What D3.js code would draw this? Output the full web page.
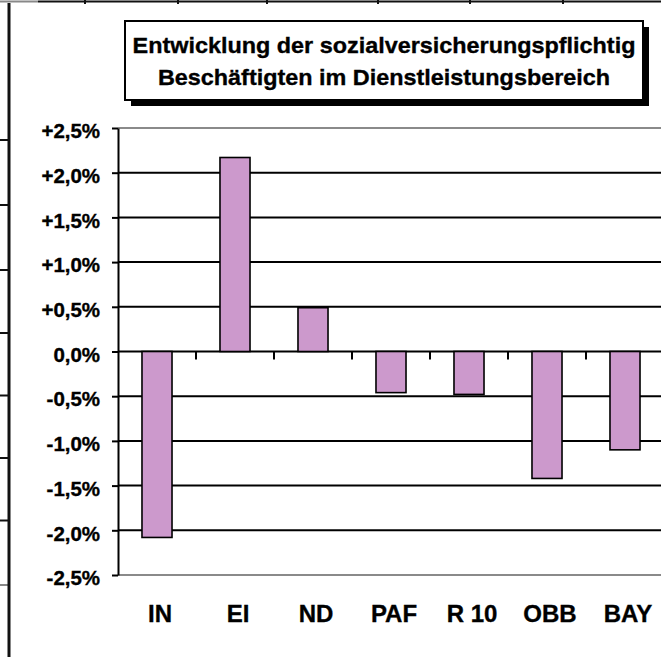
<!doctype html>
<html lang="de">
<head>
<meta charset="utf-8">
<title>Entwicklung der sozialversicherungspflichtig Beschäftigten im Dienstleistungsbereich</title>
<script src="https://cdn.jsdelivr.net/npm/d3@7"></script>
<style>
  body { margin: 0; background: #fff; }
  svg { display: block; font-family: "Liberation Sans", Arial, sans-serif; font-weight: bold; }
  svg text { stroke: #000; stroke-width: 0.35px; }
</style>
</head>
<body>
<svg id="chart" width="661" height="659"></svg>
<script>
// chart values (percent change)
var categories = ["IN", "EI", "ND", "PAF", "R 10", "OBB", "BAY"];
var values = [-2.08, 2.17, 0.49, -0.46, -0.48, -1.42, -1.10];
var tickValues = [2.5, 2, 1.5, 1, 0.5, 0, -0.5, -1, -1.5, -2, -2.5];
var tickLabels = ["+2,5%", "+2,0%", "+1,5%", "+1,0%", "+0,5%", "0,0%",
                  "-0,5%", "-1,0%", "-1,5%", "-2,0%", "-2,5%"];
var titleLines = ["Entwicklung der sozialversicherungspflichtig",
                  "Beschäftigten im Dienstleistungsbereich"];

var svg = d3.select("#chart"),
    width = +svg.attr("width"),
    height = +svg.attr("height");

var plot = {left: 118, top: 128, bottom: 575, right: 664};

var y = d3.scaleLinear().domain([-2.5, 2.5]).range([plot.bottom, plot.top]);
var x = d3.scaleBand()
    .domain(categories)
    .range([plot.left, plot.right])
    .paddingInner(0.615)
    .paddingOuter(0.3075);
var step = x.step();

// spreadsheet cell borders behind the chart object
var sheet = svg.append("g").attr("class", "sheet");
sheet.append("line")
    .attr("x1", 0).attr("x2", 38).attr("y1", 1.5).attr("y2", 1.5)
    .attr("stroke", "#888").attr("stroke-width", 2);
sheet.append("line")
    .attr("x1", 38).attr("x2", width).attr("y1", 1.5).attr("y2", 1.5)
    .attr("stroke", "#111").attr("stroke-width", 2);
sheet.selectAll("line.col")
    .data([85, 178, 267, 378, 470, 563])
    .enter().append("line")
    .attr("class", "col")
    .attr("x1", function(d) { return d; }).attr("x2", function(d) { return d; })
    .attr("y1", 0).attr("y2", 4)
    .attr("stroke", "#111").attr("stroke-width", 2);
sheet.selectAll("line.row")
    .data([140, 205, 270, 333, 395.5, 458, 520.5, 585])
    .enter().append("line")
    .attr("class", "row")
    .attr("x1", 0).attr("x2", 8)
    .attr("y1", function(d) { return d; }).attr("y2", function(d) { return d; })
    .attr("stroke", function(d, i) { return i == 7 ? "#888" : "#111"; })
    .attr("stroke-width", 2);
sheet.append("line")
    .attr("x1", 9).attr("x2", 9).attr("y1", 3).attr("y2", 657)
    .attr("stroke", "#111").attr("stroke-width", 3);

// gridlines
svg.append("g")
    .attr("class", "grid")
    .selectAll("line")
    .data(tickValues)
    .enter().append("line")
    .attr("x1", plot.left).attr("x2", width)
    .attr("y1", function(d) { return y(d); })
    .attr("y2", function(d) { return y(d); })
    .attr("stroke", function(d) { return Math.abs(d) == 2.5 ? "#8a8a8a" : "#000"; })
    .attr("stroke-width", 2);

// category boundary ticks under the zero line
svg.append("g")
    .selectAll("line")
    .data(categories.slice(1))
    .enter().append("line")
    .attr("x1", function(d) { return x(d) - (step - x.bandwidth()) / 2; })
    .attr("x2", function(d) { return x(d) - (step - x.bandwidth()) / 2; })
    .attr("y1", y(0)).attr("y2", y(0) + 8)
    .attr("stroke", "#000").attr("stroke-width", 2);

// bars
svg.append("g")
    .attr("class", "bars")
    .selectAll("rect")
    .data(values)
    .enter().append("rect")
    .attr("x", function(d, i) { return x(categories[i]); })
    .attr("width", x.bandwidth())
    .attr("y", function(d) { return y(Math.max(0, d)); })
    .attr("height", function(d) { return Math.abs(y(d) - y(0)); })
    .attr("fill", "#cc99cc")
    .attr("stroke", "#000")
    .attr("stroke-width", 1.6);

// y axis
var yAxis = svg.append("g")
    .attr("transform", "translate(" + plot.left + ",0)")
    .call(d3.axisLeft(y)
        .tickValues(tickValues)
        .tickFormat(function(d, i) { return tickLabels[i]; })
        .tickSize(6)
        .tickSizeOuter(0));
yAxis.select(".domain").attr("stroke", "#000").attr("stroke-width", 2);
yAxis.selectAll(".tick line").attr("stroke", "#000").attr("stroke-width", 2);
yAxis.selectAll(".tick text")
    .attr("x", -17.1)
    .attr("dy", "0.5em")
    .attr("transform", "scale(1.05,1)")
    .attr("fill", "#000")
    .style("font-family", "'Liberation Sans', Arial, sans-serif")
    .style("font-weight", "bold")
    .style("font-size", "19.5px");

// category labels
svg.append("g")
    .selectAll("text")
    .data(categories)
    .enter().append("text")
    .attr("x", function(d) { return x(d) + x.bandwidth() / 2 + 3; })
    .attr("y", 622)
    .attr("text-anchor", "middle")
    .style("font-size", "24px")
    .text(function(d) { return d; });

// title box with shadow
var title = svg.append("g").attr("class", "title");
title.append("rect")
    .attr("x", 131).attr("y", 27).attr("width", 518).attr("height", 79)
    .attr("fill", "#000");
title.append("rect")
    .attr("x", 125).attr("y", 21).attr("width", 518).attr("height", 79)
    .attr("fill", "#fff").attr("stroke", "#000").attr("stroke-width", 2);
title.selectAll("text")
    .data(titleLines)
    .enter().append("text")
    .attr("transform", function(d, i) {
        return "translate(384," + (53 + i * 32) + ") scale(1.04,1)";
    })
    .attr("text-anchor", "middle")
    .style("font-size", "22.5px")
    .text(function(d) { return d; });
</script>
</body>
</html>
